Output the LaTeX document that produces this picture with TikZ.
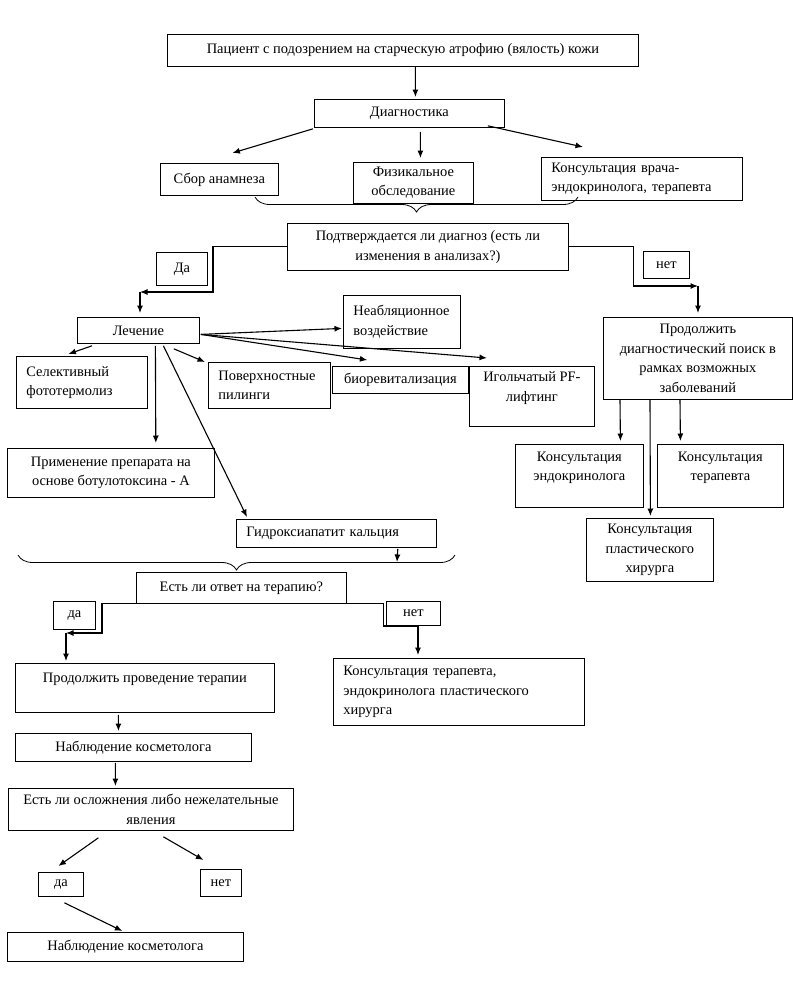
\documentclass[tikz,border=0pt]{standalone}
\usepackage{fontspec}
\setmainfont{Liberation Serif}
\usetikzlibrary{arrows.meta,positioning,calc,decorations.pathreplacing}

\begin{document}
\begin{tikzpicture}[x=1bp, y=-1bp, every node/.style={font=\fontsize{14.5}{19.5}\selectfont},
  box/.style={draw, line width=0.8bp, inner sep=2bp, anchor=north west, align=center},
  lbox/.style={box, align=left, text width=#1, inner xsep=10bp},
  arr/.style={-{Latex[length=7.5bp,width=6bp]}, line width=1.1bp},
  brc/.style={decorate, decoration={brace, amplitude=15bp}, line width=0.8bp}]
\useasboundingbox (0,0) rectangle (793,993);

% diagnostics
\node[box, minimum width=471bp, minimum height=32bp] (patient) at (167,34) {Пациент с подозрением на старческую атрофию (вялость) кожи};
\node[box, minimum width=190bp, minimum height=28bp] (diag) at (314,99) {Диагностика};
\node[box, minimum width=118bp, minimum height=32bp] (anamn) at (160,163) {Сбор анамнеза};
\node[box, minimum width=120bp, minimum height=41bp] (phys) at (353,162) {Физикальное\\обследование};
\node[lbox=181bp, minimum height=43bp] (consult) at (541,157) {Консультация врача-\\эндокринолога, терапевта};
\draw[brc] (578,197) -- (255,197);
\node[box, minimum width=281bp, minimum height=47bp] (confirm) at (287,223) {Подтверждается ли диагноз (есть ли\\изменения в анализах?)};

\draw[arr] ($(patient.south)+(12.5,0)$) -- ($(diag.north)+(6,-2)$);
\draw[arr] ($(diag.south west)+(-1,1)$) -- ($(anamn.north)+(13,-10)$);
\draw[arr] ($(diag.south)+(11,4)$) -- ($(phys.north)+(7,-4)$);
\draw[arr] ($(diag.south east)+(-17,-2)$) -- ($(consult.north west)+(42,-10)$);

% answer boxes
\foreach \name/\x/\y/\w/\h/\txt in {yesA/156/252/51/33/Да, noA/643/251/46/27/нет,
  yesB/53/601/42/28/да, noB/386/601/54/24/нет, yesC/38/872/45/24/да, noC/200/869/41/27/нет}
  \node[box, minimum width=\w bp, minimum height=\h bp] (\name) at (\x,\y) {\txt};

% treatment
\node[box, minimum width=122bp, minimum height=26bp] (treat) at (77,317) {Лечение};
\node[lbox=97bp, minimum height=53bp] (nonabl) at (343,295) {Неабляционное\\воздействие};
\node[lbox=111bp, minimum height=52bp] (selec) at (16,356) {Селективный\\фототермолиз};
\node[lbox=102bp, minimum height=46bp] (surf) at (208,362) {Поверхностные\\пилинги};
\node[box, minimum width=136bp, minimum height=27bp] (biorev) at (332,366) {биоревитализация};
\node[box, minimum width=125bp, minimum height=60bp] (needle) at (469,366) {Игольчатый PF-\\лифтинг\\~};
\node[box, minimum width=207bp, minimum height=49bp] (botox) at (7,448) {Применение препарата на\\основе ботулотоксина - А};
\node[lbox=180bp, minimum height=28bp] (hydroxy) at (236,519) {Гидроксиапатит кальция};

\coordinate (turnA) at (140,292);
\draw[arr] (confirm.west) -- ++(-74,0) |- (turnA);
\draw[arr, shorten >=4bp] (turnA) -- (turnA |- treat.north);

\draw[arr] ($(treat.east)+(1,4)$) -- ($(nonabl.west)+(-1,6.5)$);
\draw[arr] ($(treat.east)+(1,4)$) -- ($(biorev.north)+(-33,-6)$);
\draw[arr] ($(treat.east)+(1,4)$) -- ($(needle.north west)+(18,-8)$);
\draw[arr] ($(treat.south west)+(15,2)$) -- ($(selec.north)+(-13.5,-2)$);
\draw[arr] ($(treat.south east)+(-26,5)$) -- ($(surf.north west)+(-3,0)$);
\draw[arr] ($(treat.south)+(17,2)$) -- ($(botox.north east)+(-59,-5)$);
\draw[arr] ($(treat.south)+(25,2)$) -- ($(hydroxy.north west)+(11,-2)$);

% further search
\node[box, minimum width=189bp, minimum height=82bp] (search) at (603,317) {Продолжить\\диагностический поиск в\\рамках возможных\\заболеваний};
\node[box, minimum width=128bp, minimum height=63bp] (endo) at (515,444) {Консультация\\эндокринолога\\~};
\node[box, minimum width=126bp, minimum height=63bp] (ther) at (657,444) {Консультация\\терапевта\\~};
\node[box, minimum width=127bp, minimum height=63bp] (plast) at (586,518) {Консультация\\пластического\\хирурга};

\coordinate (turnB) at (698,286);
\draw[arr] (confirm.east) -- ++(65,0) |- (turnB);
\draw[arr, shorten >=4bp] (turnB) -- (turnB |- search.north);
\draw[arr] ($(search.south west)+(17,0)$) -- ($(endo.north)+(41,-3)$);
\draw[arr] ($(search.south west)+(77,0)$) -- ($(ther.north)+(-40,-3)$);
\draw[arr] ($(search.south west)+(47,0)$) -- ($(plast.north)+(0.5,-2)$);

% response to therapy
\coordinate (braceB) at (397,562);
\draw[arr] ($(hydroxy.south east)+(-39,1)$) -- (braceB);
\draw[brc] (455,555) -- (18,555);
\node[box, minimum width=210bp, minimum height=31bp] (response) at (136,572) {Есть ли ответ на терапию?};
\node[box, minimum width=259bp, minimum height=49bp] (continue) at (15,663) {Продолжить проведение терапии\\~};
\node[lbox=231bp, minimum height=67bp] (consall) at (333,658) {Консультация терапевта,\\эндокринолога пластического\\хирурга};
\node[box, minimum width=236bp, minimum height=28bp] (observeA) at (15,733) {Наблюдение косметолога};
\node[box, minimum width=285bp, minimum height=42bp] (complic) at (8,788) {Есть ли осложнения либо нежелательные\\явления};
\node[box, minimum width=236bp, minimum height=29bp] (observeB) at (7,932) {Наблюдение косметолога};

\coordinate (turnC) at (66,633);
\draw[arr] (response.south west) -- ++(-34,0) |- (turnC);
\draw[arr, shorten >=2bp] (turnC) -- (turnC |- continue.north);
\coordinate (turnD) at (418,626);
\draw[line width=1.1bp] (response.south east) -- ++(37,0) |- (turnD);
\draw[arr, shorten >=3bp] (turnD) -- (turnD |- consall.north);

\draw[arr] ($(continue.south)+(-26.5,2)$) -- ($(observeA.north)+(-15,-2)$);
\draw[arr] ($(observeA.south)+(-18,1)$) -- ($(complic.north)+(-35.5,-2)$);
\draw[arr] ($(complic.south)+(-52.5,7)$) -- ($(yesC.north)+(-2.5,-6)$);
\draw[arr] ($(complic.south)+(12.5,6)$) -- ($(noC.north)+(-17.5,-9)$);
\draw[arr] ($(yesC.south)+(3.5,6)$) -- ($(observeB.north)+(-3,-1)$);
\end{tikzpicture}
\end{document}
